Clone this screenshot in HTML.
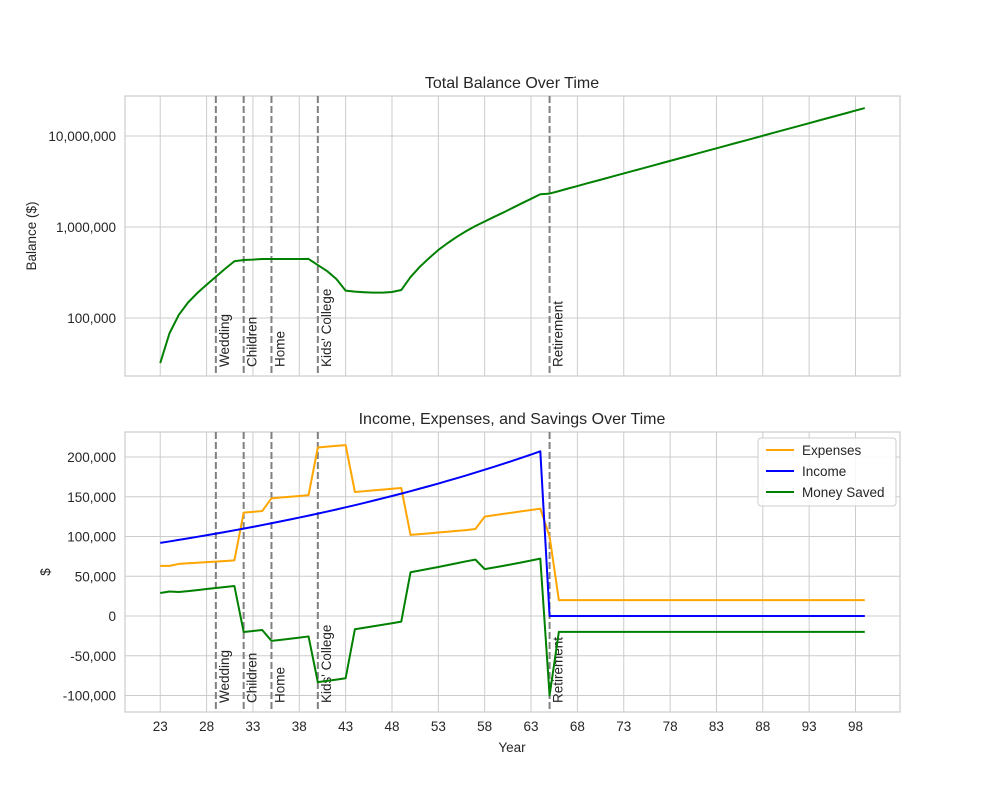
<!DOCTYPE html>
<html><head><meta charset="utf-8"><style>
html,body{margin:0;padding:0;background:#fff}
svg{display:block;font-family:"Liberation Sans",sans-serif}
</style></head><body>
<svg id="chart" width="1000" height="800" viewBox="0 0 1000 800">
<rect width="1000" height="800" fill="#fff"/>
</svg>
<script>
const ages = [];
for (let a = 23; a <= 99; a++) ages.push(a);
const balance = [32000,68000,108000,148000,188000,232000,284000,348000,420000,434000,438000,445000,445000,445000,445000,445000,446000,382000,328000,268000,200000,195000,192000,190000,190000,193000,203000,282000,365000,455000,559000,665000,780000,900000,1025000,1150000,1290000,1440000,1620000,1820000,2040000,2290000,
2330000,2480000,2650000,2820000,3010000,3200000,3410000,3640000,3880000,4130000,4400000,4690000,5000000,5330000,5680000,6050000,6450000,6870000,7320000,7800000,8320000,8860000,9440000,10060000,10730000,11430000,12180000,12980000,13840000,14750000,15710000,16750000,17850000,19020000,20270000];
const income = [92000,93800,95700,97600,99600,101600,103600,105700,107800,109900,112100,114400,116700,119000,121400,123800,126300,128800,131400,134000,136700,139400,142200,145100,148000,150900,153900,157000,160200,163400,166600,170000,173400,176800,180400,184000,187700,191400,195200,199100,203100,207200,
0,0,0,0,0,0,0,0,0,0,0,0,0,0,0,0,0,0,0,0,0,0,0,0,0,0,0,0,0,0,0,0,0,0,0];
const expenses = [63000,63000,65500,66300,67000,67700,68400,69200,70000,130000,131000,132000,148000,149000,150000,151000,152000,212000,213000,214000,215000,156000,157000,158000,159000,160000,161000,102000,103000,104000,105000,106000,107000,108000,109500,125000,126700,128400,130000,131700,133300,135000,
100000,20000,20000,20000,20000,20000,20000,20000,20000,20000,20000,20000,20000,20000,20000,20000,20000,20000,20000,20000,20000,20000,20000,20000,20000,20000,20000,20000,20000,20000,20000,20000,20000,20000,20000];
const saved = [29000,30800,30200,31300,32600,33900,35200,36500,37800,-20100,-18900,-17600,-31300,-30000,-28600,-27200,-25700,-83200,-81600,-80000,-78300,-16600,-14800,-12900,-11000,-9100,-7100,55000,57200,59400,61600,64000,66400,68800,70900,59000,61000,63000,65200,67400,69800,72200,
-100000,-20000,-20000,-20000,-20000,-20000,-20000,-20000,-20000,-20000,-20000,-20000,-20000,-20000,-20000,-20000,-20000,-20000,-20000,-20000,-20000,-20000,-20000,-20000,-20000,-20000,-20000,-20000,-20000,-20000,-20000,-20000,-20000,-20000,-20000];
const xTicks = [23,28,33,38,43,48,53,58,63,68,73,78,83,88,93,98];
const topTicks = [100000,1000000,10000000];
const topTickLabels = ["100,000","1,000,000","10,000,000"];
const botTicks = [-100000,-50000,0,50000,100000,150000,200000];
const botTickLabels = ["-100,000","-50,000","0","50,000","100,000","150,000","200,000"];
const events = ["Wedding","Children","Home","Kids' College","Retirement"];
const eventAges = [29,32,35,40,65];

const NS = "http://www.w3.org/2000/svg";
const svg = document.getElementById("chart");
function mk(tag, attrs, parent) {
  const e = document.createElementNS(NS, tag);
  for (const k in attrs) e.setAttribute(k, attrs[k]);
  (parent || svg).appendChild(e);
  return e;
}
const L = 125, R = 900;
const xMin = 19.2, xMax = 102.8;
function xs(a) { return L + (a - xMin) / (xMax - xMin) * (R - L); }
const T1 = 96, B1 = 376, T2 = 432, B2 = 712;
function y1(v) { return 318 - 91 * Math.log10(v / 100000); }
function y2(v) { return 616 - v * 0.000795; }

function panel(top, bottom, yTicks, yLabels, yfn, name) {
  const g = mk("g", {});
  
  
  xTicks.forEach(t => {
    const l = mk("line", {x1: xs(t), x2: xs(t), y1: top, y2: bottom, stroke: "#cccccc", "stroke-width": 1}, g);
    
    
  });
  yTicks.forEach((t, i) => {
    const y = yfn(t);
    const l = mk("line", {x1: L, x2: R, y1: y, y2: y, stroke: "#cccccc", "stroke-width": 1}, g);
    
    
    const tx = mk("text", {x: L - 9, y: y + 5, "text-anchor": "end", "font-size": 13.5, fill: "#262626"}, g);
    tx.textContent = yLabels[i];
    
    
  });
  const fr = mk("rect", {x: L, y: top, width: R - L, height: bottom - top, fill: "none", stroke: "#cccccc", "stroke-width": 1.2}, g);
  
  
  return g;
}
function vlines(g, top, bottom) {
  eventAges.forEach((a, i) => {
    const x = xs(a);
    const l = mk("line", {x1: x, x2: x, y1: top, y2: bottom, stroke: "#808080", "stroke-width": 2, "stroke-dasharray": "7,3"}, g);
    
    
    const ty = bottom - 9;
    const t = mk("text", {x: x + 13, y: ty, transform: `rotate(-90 ${x + 13} ${ty})`, "font-size": 13.5, fill: "#262626"}, g);
    t.textContent = events[i];
    
    
  });
}
function line(g, vals, yfn, color, name) {
  const d = vals.map((v, i) => (i ? "L" : "M") + xs(ages[i]).toFixed(2) + "," + yfn(v).toFixed(2)).join(" ");
  const p = mk("path", {d: d, fill: "none", stroke: color, "stroke-width": 2, "stroke-linejoin": "round"}, g);
  
  
}

const g1 = panel(T1, B1, topTicks, topTickLabels, y1, "balance-panel");
vlines(g1, T1, B1);
line(g1, balance, y1, "#008000", "balance-line");
const t1 = mk("text", {x: 512, y: 88, "text-anchor": "middle", "font-size": 16, fill: "#262626"});
t1.textContent = "Total Balance Over Time";


const yl1 = mk("text", {x: 36, y: 236, "text-anchor": "middle", "font-size": 13.5, fill: "#262626", transform: "rotate(-90 36 236)"});
yl1.textContent = "Balance ($)";



const g2 = panel(T2, B2, botTicks, botTickLabels, y2, "cashflow-panel");
vlines(g2, T2, B2);
line(g2, expenses, y2, "#ffa500", "expenses-line");
line(g2, income, y2, "#0000ff", "income-line");
line(g2, saved, y2, "#008000", "money-saved-line");
xTicks.forEach(t => {
  const tx = mk("text", {x: xs(t), y: B2 + 19, "text-anchor": "middle", "font-size": 13.5, fill: "#262626"});
  tx.textContent = t;
  
  
});
const t2 = mk("text", {x: 512, y: 424, "text-anchor": "middle", "font-size": 16, fill: "#262626"});
t2.textContent = "Income, Expenses, and Savings Over Time";


const xl = mk("text", {x: 512, y: 752, "text-anchor": "middle", "font-size": 13.5, fill: "#262626"});
xl.textContent = "Year";


const yl2 = mk("text", {x: 50, y: 572, "text-anchor": "middle", "font-size": 13.5, fill: "#262626", transform: "rotate(-90 50 572)"});
yl2.textContent = "$";



const lg = mk("g", {});


const lb = mk("rect", {x: 758, y: 438, width: 138, height: 68, rx: 3, fill: "#fff", "fill-opacity": 0.85, stroke: "#cccccc"}, lg);


const legNames = ["Expenses","Income","Money Saved"];
const legColors = ["#ffa500","#0000ff","#008000"];
legNames.forEach((n, i) => {
  const y = 450 + i * 21;
  const l = mk("line", {x1: 766, x2: 794, y1: y, y2: y, stroke: legColors[i], "stroke-width": 2}, lg);
  
  
  const t = mk("text", {x: 802, y: y + 5, "font-size": 13.5, fill: "#262626"}, lg);
  t.textContent = n;
  
  
});
</script>
</body></html>
